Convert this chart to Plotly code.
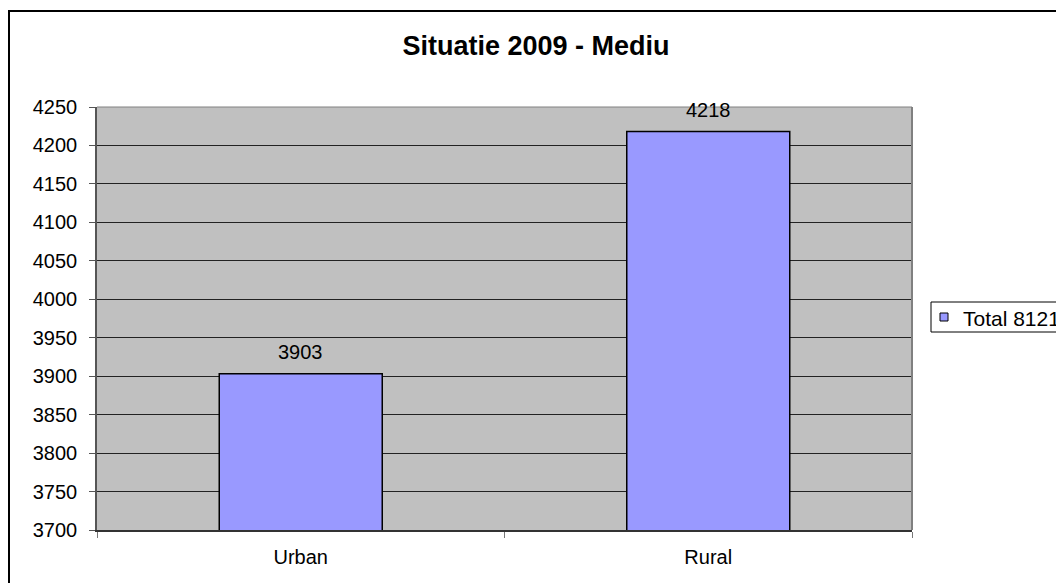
import plotly.graph_objects as go

categories = ["Urban", "Rural"]
values = [3903, 4218]
series_name = "Total 8121"
title_text = "Situatie 2009 - Mediu"

OFF = 8  # page body margin
W, H = 1064 - OFF, 583 - OFF
L, R, T, B = 97 - OFF, 912 - OFF, 107 - OFF, 530 - OFF

def px(x):
    return (x - OFF - L) / (R - L)

def py(y):
    return (B - (y - OFF)) / (B - T)

BAR_COLOR = "#9999FF"

fig = go.Figure()
fig.add_trace(go.Bar(
    x=categories, y=values, name=series_name,
    marker=dict(color=BAR_COLOR, line=dict(color="black", width=1.5)),
    width=0.4, showlegend=False,
))

# data labels
for c, v in zip(categories, values):
    fig.add_annotation(x=c, y=v, xref="x", yref="y", text=str(v), showarrow=False,
                       yanchor="bottom", yshift=9,
                       font=dict(family="Arial", size=20, color="black"))

fig.update_layout(
    width=W, height=H,
    margin=dict(l=L, r=W - R, t=T, b=H - B, pad=0, autoexpand=False),
    paper_bgcolor="white", plot_bgcolor="#C0C0C0",
    font=dict(family="Arial", size=20, color="black"),
    title=dict(text="<b>" + title_text + "</b>", x=0.5, xanchor="center",
               y=1 - (46 - OFF) / H, yanchor="middle",
               font=dict(family="Arial", size=27, color="black")),
    showlegend=False,
    bargap=0.6,
)
fig.update_yaxes(range=[3700, 4250], dtick=50, tickformat="d",
                 showgrid=True, gridcolor="#222222", gridwidth=1,
                 showline=True, linecolor="#555555", linewidth=1.5,
                 ticks="outside", ticklen=6, tickcolor="#555555",
                 mirror=False, zeroline=False, ticklabelstandoff=8)
fig.update_xaxes(showline=True, linecolor="#333333", linewidth=1.5,
                 ticks="outside", ticklen=6, tickcolor="#777777", tickson="boundaries",
                 showgrid=False, ticklabelstandoff=8)

# plot-area border (right and top)
fig.add_shape(type="line", xref="paper", yref="paper", x0=1, x1=1, y0=0, y1=1,
              line=dict(color="#808080", width=2))
fig.add_shape(type="line", xref="paper", yref="paper", x0=0, x1=1, y0=1, y1=1,
              line=dict(color="#808080", width=1))
# chart outer border
fig.add_shape(type="rect", xref="paper", yref="paper",
              x0=px(9), x1=px(1075), y0=py(595), y1=py(11),
              line=dict(color="black", width=2), layer="below")

# legend (box, swatch, label)
fig.add_shape(type="rect", xref="paper", yref="paper",
              x0=px(931), x1=px(1080), y0=py(332), y1=py(302),
              line=dict(color="black", width=1), fillcolor="white")
fig.add_shape(type="rect", xref="paper", yref="paper",
              x0=px(940), x1=px(948), y0=py(321), y1=py(313),
              line=dict(color="black", width=1), fillcolor=BAR_COLOR)
fig.add_annotation(xref="paper", yref="paper", x=px(961), y=py(318),
                   xanchor="left", yanchor="middle", showarrow=False,
                   text=series_name, font=dict(family="Arial", size=21, color="black"))

fig.write_html("out.html")
